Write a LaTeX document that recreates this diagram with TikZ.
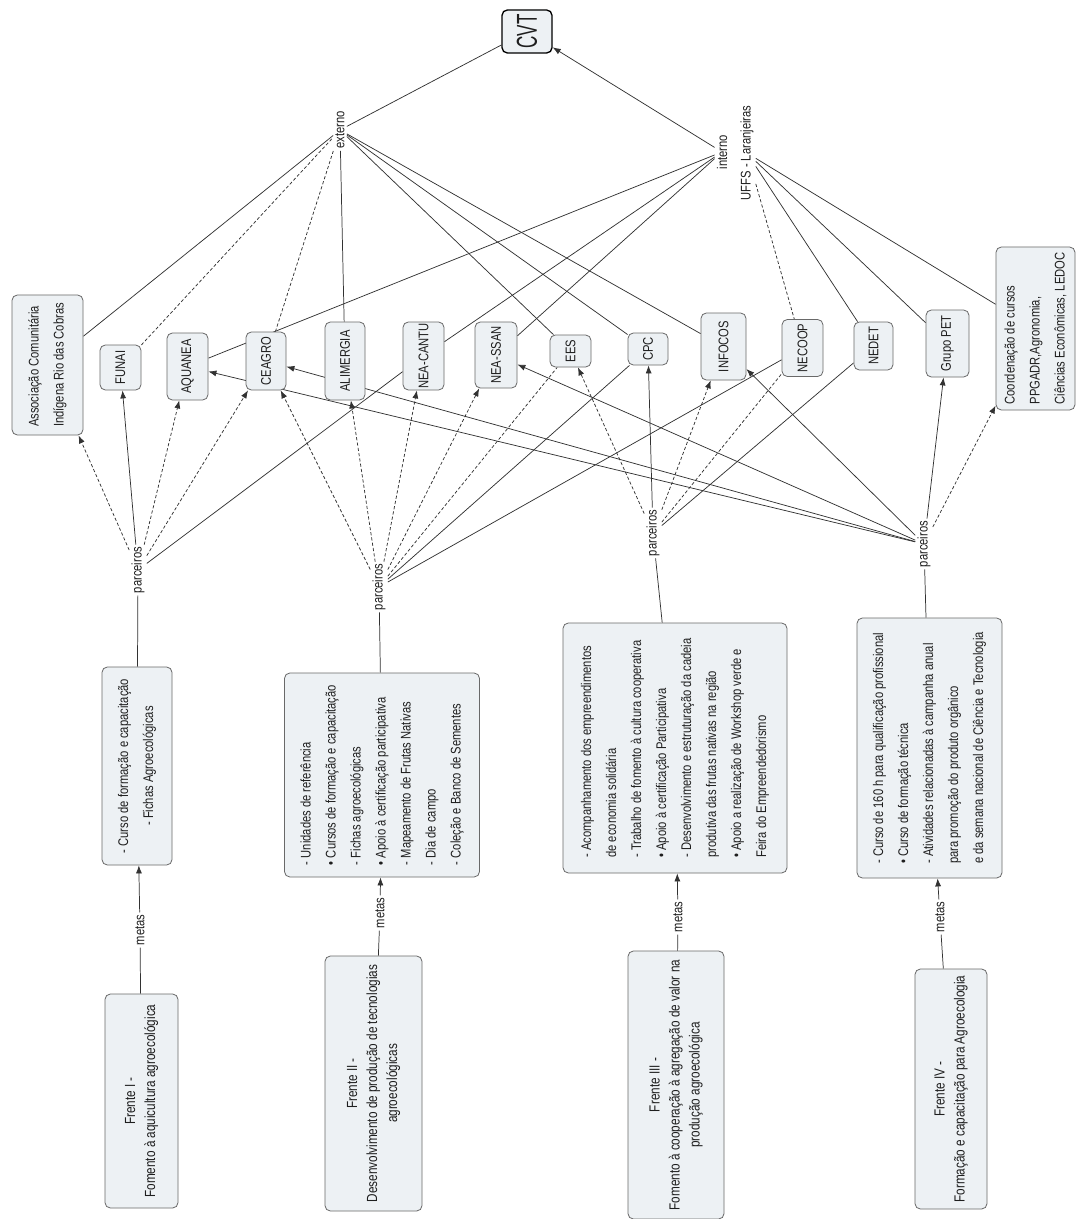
\documentclass[tikz,border=0pt]{standalone}
\usepackage{fontspec}
\setmainfont[FakeStretch=0.8]{Liberation Sans}
\usetikzlibrary{arrows.meta,backgrounds}
\definecolor{boxfill}{RGB}{237,241,244}
\definecolor{boxline}{RGB}{105,105,105}
\definecolor{linec}{RGB}{50,50,50}
\definecolor{txt}{RGB}{30,30,30}
\newcommand{\fs}{\fontsize{10.5}{18.75}\selectfont}
\newcommand{\ff}{\fontsize{11}{15}\selectfont}
\begin{document}
\begin{tikzpicture}[x=0.75pt,y=-0.75pt,
  box/.style={draw=boxline, fill=boxfill, rounded corners=4pt, line width=0.6pt, rotate=90, inner sep=0pt, align=center, font=\fs, text=txt},
  sz/.style 2 args={minimum height=#1*0.75pt, minimum width=#2*0.75pt},
  lbl/.style={rotate=90, inner sep=1.5pt, font=\fs, text=txt},
  con/.style={draw=linec, line width=0.55pt},
  dcon/.style={con, dash pattern=on 2.4pt off 1.6pt},
  arr/.style={-{Latex[length=6pt,width=4.5pt]}}
]
\useasboundingbox (0,0) rectangle (1078,1219);

% top concept
\node[box, sz={50}{43}, draw=black, line width=1pt] (cvt) at (527,31.5) {\fontsize{16}{16}\selectfont\scalebox{1}[1.35]{CVT}};

% linking phrases
\node[lbl] (ext) at (340,130) {externo};
\node[lbl] (int) at (722,152) {interno};
\node[lbl] (uffs) at (747,153) {UFFS - Laranjeiras};

% partner concepts
\node[box, sz={71}{140}, align=left] (assoc) at (47.5,365) {Associação Comunitária\\Indígena Rio das Cobras};
\node[box, sz={41}{45}] (funai) at (120.5,367.5) {FUNAI};
\node[box, sz={41}{67}] (aqua) at (187.5,366.5) {AQUANEA};
\node[box, sz={40}{58}] (ceagro) at (266,361) {CEAGRO};
\node[box, sz={40}{78}] (alim) at (345,361) {ALIMERGIA};
\node[box, sz={41}{68}] (cantu) at (423.5,356) {NEA-CANTU};
\node[box, sz={42}{66}] (ssan) at (496,355) {NEA-SSAN};
\node[box, sz={41}{32}] (ees) at (570.5,351) {EES};
\node[box, sz={40}{32}] (cpc) at (648,349) {CPC};
\node[box, sz={45}{67}] (infocos) at (723.5,346.5) {INFOCOS};
\node[box, sz={41}{57}] (necoop) at (802.5,348) {NECOOP};
\node[box, sz={39}{48}] (nedet) at (873.5,346) {NEDET};
\node[box, sz={43}{67}] (pet) at (947.5,343.5) {Grupo PET};
\node[box, sz={79}{163}, align=left] (coord) at (1035.5,328.5) {Coordenação de cursos\\PPGADR,Agronomia,\\Ciências Econômicas, LEDOC};

% parceiros
\node[lbl] (p1) at (138,570) {parceiros};
\node[lbl] (p2) at (379,587) {parceiros};
\node[lbl] (p3) at (653,533) {parceiros};
\node[lbl] (p4) at (924,544) {parceiros};

% metas boxes
\node[box, sz={70}{198}] (m1box) at (137,766) {- Curso de formação e capacitação\\- Fichas Agroecológicas};
\node[box, sz={195}{204}, align=left] (m2box) at (382,775) {- Unidades de referência\\• Cursos de formação e capacitação\\- Fichas agroecológicas\\• Apoio à certificação participativa\\- Mapeamento de Frutas Nativas\\- Dia de campo\\- Coleção e Banco de Sementes};
\node[box, sz={224}{250}, align=left] (m3box) at (675,748) {- Acompanhamento dos empreendimentos\\de economia solidária\\- Trabalho de fomento à cultura cooperativa\\• Apoio à certificação Participativa\\- Desenvolvimento e estruturação da cadeia\\produtiva das frutas nativas na região\\• Apoio a realização de Workshop verde e\\Feira do Empreendedorismo};
\node[box, sz={145}{260}, align=left] (m4box) at (929.5,748) {- Curso de 160 h para qualificação profissional\\• Curso de formação técnica\\- Atividades relacionadas à campanha anual\\para promoção do produto orgânico\\e da semana nacional de Ciência e Tecnologia};

% metas labels
\node[lbl] (m1) at (140,930) {metas};
\node[lbl] (m2) at (380,913) {metas};
\node[lbl] (m3) at (678,917) {metas};
\node[lbl] (m4) at (940,917) {metas};

% frentes
\node[box, sz={73}{214}, font=\ff] (f1) at (141.5,1101) {Frente I -\\Fomento à aquicultura agroecológica};
\node[box, sz={97}{255}, font=\ff] (f2) at (373.5,1083.5) {Frente II -\\Desenvolvimento de produção de tecnologias\\agroecológicas};
\node[box, sz={96}{268}, font=\ff] (f3) at (676,1085) {Frente III -\\Fomento à cooperação à agregação de valor na\\produção agroecológica};
\node[box, sz={72}{240}, font=\ff] (f4) at (951,1089) {Frente IV -\\Formação e capacitação para Agroecologia};

\begin{scope}[on background layer]
\fill[white] (0,0) rectangle (1078,1219);
% to CVT
\draw[con] (ext) -- (cvt);
\draw[con,arr] (int) -- (cvt);
% externo
\draw[con] (assoc) -- (ext);
\draw[dcon] (funai) -- (ext);
\draw[dcon] (ceagro) -- (ext);
\draw[con] (alim) -- (ext);
\draw[con] (ext) -- (ees);
\draw[con] (ext) -- (cpc);
\draw[con] (ext) -- (infocos);
% interno
\draw[con] (aqua) -- (int);
\draw[con] (cantu) -- (int);
\draw[con] (ssan) -- (int);
% UFFS
\draw[dcon] (uffs) -- (necoop);
\draw[con] (uffs) -- (nedet);
\draw[con] (uffs) -- (pet);
\draw[con] (uffs) -- (coord);
% parceiros I
\draw[dcon,arr] (p1) -- (assoc);
\draw[con,arr] (p1) -- (funai);
\draw[dcon,arr] (p1) -- (aqua);
\draw[dcon,arr] (p1) -- (ceagro);
\draw[con] (p1) -- (cantu);
% parceiros II
\draw[dcon,arr] (p2) -- (ceagro);
\draw[dcon,arr] (p2) -- (alim);
\draw[dcon,arr] (p2) -- (cantu);
\draw[dcon,arr] (p2) -- (ssan);
\draw[dcon] (p2) -- (ees);
\draw[con] (p2) -- (cpc);
\draw[con] (p2) -- (necoop);
% parceiros III
\draw[dcon,arr] (p3) -- (ees);
\draw[con,arr] (p3) -- (cpc);
\draw[dcon,arr] (p3) -- (infocos);
\draw[dcon] (p3) -- (necoop);
\draw[con] (p3) -- (nedet);
% parceiros IV
\draw[con,arr] (p4) -- (aqua);
\draw[con,arr] (p4) -- (ceagro);
\draw[con,arr] (p4) -- (ssan);
\draw[con,arr] (p4) -- (infocos);
\draw[con,arr] (p4) -- (pet);
\draw[dcon,arr] (p4) -- (coord);
% metas boxes to parceiros
\draw[con] (m1box) -- (p1);
\draw[con] (m2box) -- (p2);
\draw[con] (m3box) -- (p3);
\draw[con] (m4box) -- (p4);
% frentes to metas
\draw[con] (f1) -- (m1);
\draw[con,arr] (m1) -- (m1box);
\draw[con] (f2) -- (m2);
\draw[con,arr] (m2) -- (m2box);
\draw[con] (f3) -- (m3);
\draw[con,arr] (m3) -- (m3box);
\draw[con] (f4) -- (m4);
\draw[con,arr] (m4) -- (m4box);
\end{scope}
\end{tikzpicture}
\end{document}
